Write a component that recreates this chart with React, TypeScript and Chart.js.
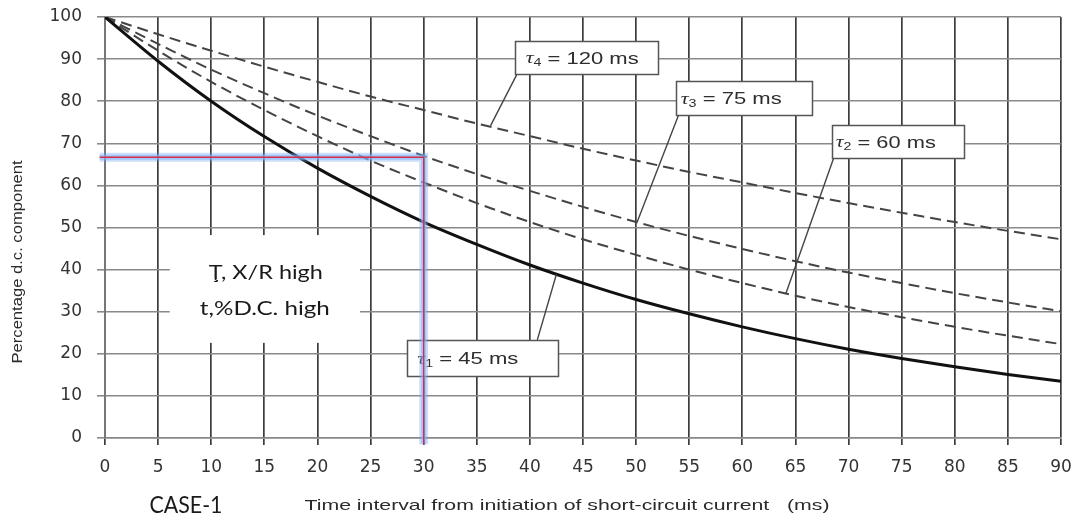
import React, { useEffect, useRef } from "react";
import { Chart, registerables } from "chart.js";

Chart.register(...registerables);

// ---- data ----
const timeMs = [0, 5, 10, 15, 20, 25, 30, 35, 40, 45, 50, 55, 60, 65, 70, 75, 80, 85, 90];
const tau45 = [100, 89.5, 80, 71.6, 64.1, 57.4, 51.3, 46, 41.1, 36.8, 32.9, 29.5, 26.4, 23.6, 21.1, 18.9, 16.9, 15.1, 13.5];
const tau60 = [100, 92, 84.6, 77.9, 71.7, 65.9, 60.7, 55.8, 51.3, 47.2, 43.5, 40, 36.8, 33.8, 31.1, 28.7, 26.4, 24.3, 22.3];
const tau75 = [100, 93.6, 87.5, 81.9, 76.6, 71.7, 67, 62.7, 58.7, 54.9, 51.3, 48, 44.9, 42, 39.3, 36.8, 34.4, 32.2, 30.1];
const tau120 = [100, 95.9, 92, 88.2, 84.6, 81.1, 77.9, 74.7, 71.7, 68.7, 65.9, 63.2, 60.7, 58.2, 55.8, 53.5, 51.3, 49.2, 47.2];
const seriesNames = ["τ1 = 45 ms", "τ2 = 60 ms", "τ3 = 75 ms", "τ4 = 120 ms"];

const highlightTime = 30;
const highlightPercent = 66.7;

const xTitle = "Time interval from initiation of short-circuit current   (ms)";
const yTitle = "Percentage d.c. component";
const noteLine1 = "Ţ, X/R high";
const noteLine2 = "t,%D.C. high";
const caseLabel = "CASE-1";

// label boxes (data coordinates): box [x0, yTop, x1, yBottom], text start x, text width px, leader from/to
type Ann = {
  sub: string;
  value: string;
  box: [number, number, number, number];
  textX: number;
  textW: number;
  from: [number, number];
  to: [number, number];
};
const annotations: Ann[] = [
  { sub: "4", value: "120 ms", box: [38.6, 94.3, 52.1, 86.5], textX: 39.6, textW: 113, from: [38.8, 86.5], to: [36.3, 74.2] },
  { sub: "3", value: "75 ms", box: [53.8, 84.8, 66.6, 76.7], textX: 54.2, textW: 101, from: [54.0, 76.7], to: [50.1, 51.3] },
  { sub: "2", value: "60 ms", box: [68.4, 74.3, 80.9, 66.5], textX: 68.8, textW: 100, from: [68.6, 66.5], to: [64.1, 34.3] },
  { sub: "1", value: "45 ms", box: [28.4, 23.3, 42.6, 14.7], textX: 29.4, textW: 101, from: [40.7, 23.3], to: [42.5, 38.9] },
];

function fitText(
  ctx: CanvasRenderingContext2D,
  text: string,
  cx: number,
  cy: number,
  font: string,
  width: number,
  color: string,
  rotate = 0
) {
  ctx.save();
  ctx.font = font;
  ctx.fillStyle = color;
  ctx.textBaseline = "middle";
  ctx.textAlign = "center";
  const w = ctx.measureText(text).width;
  ctx.translate(cx, cy);
  if (rotate) ctx.rotate(rotate);
  ctx.scale(width / w, 1);
  ctx.fillText(text, 0, 0);
  ctx.restore();
}

const overlayPlugin = {
  id: "overlay",
  beforeDatasetsDraw(chart: any) {
    const { ctx, scales } = chart;
    const x = scales.x;
    const y = scales.y;
    const l = x.getPixelForValue(6.1);
    const r = x.getPixelForValue(24);
    const t = y.getPixelForValue(48.2);
    const b = y.getPixelForValue(22.6);
    ctx.save();
    ctx.fillStyle = "#ffffff";
    ctx.fillRect(l, t, r - l, b - t);
    ctx.restore();
    const cx = (l + r) / 2;
    fitText(ctx, noteLine1, cx + 1, y.getPixelForValue(39.2), "20px Lato", 114, "#1a1a1a");
    fitText(ctx, noteLine2, cx, y.getPixelForValue(30.8), "20px Lato", 130, "#1a1a1a");
  },
  afterDatasetsDraw(chart: any) {
    const { ctx, scales } = chart;
    const x = scales.x;
    const y = scales.y;
    ctx.save();
    // leader lines
    ctx.strokeStyle = "#444";
    ctx.lineWidth = 1.4;
    for (const a of annotations) {
      ctx.beginPath();
      ctx.moveTo(x.getPixelForValue(a.from[0]), y.getPixelForValue(a.from[1]));
      ctx.lineTo(x.getPixelForValue(a.to[0]), y.getPixelForValue(a.to[1]));
      ctx.stroke();
    }
    // boxes + text
    for (const a of annotations) {
      const l = Math.round(x.getPixelForValue(a.box[0])) + 0.5;
      const r = Math.round(x.getPixelForValue(a.box[2])) + 0.5;
      const t = Math.round(y.getPixelForValue(a.box[1])) + 0.5;
      const b = Math.round(y.getPixelForValue(a.box[3])) + 0.5;
      ctx.fillStyle = "#fff";
      ctx.fillRect(l, t, r - l, b - t);
      ctx.strokeStyle = "#555";
      ctx.lineWidth = 1.5;
      ctx.strokeRect(l, t, r - l, b - t);

      const cy = (t + b) / 2 + 1;
      const mainFont = "17px 'Liberation Sans'";
      const tauFont = "italic 17px 'Liberation Serif'";
      const subFont = "11px 'Liberation Sans'";
      ctx.textBaseline = "middle";
      ctx.textAlign = "left";
      ctx.font = tauFont;
      const wTau = ctx.measureText("τ").width;
      ctx.font = subFont;
      const wSub = ctx.measureText(a.sub).width;
      ctx.font = mainFont;
      const rest = " = " + a.value;
      const wRest = ctx.measureText(rest).width;
      const total = wTau + wSub + wRest;
      const s = a.textW / total;
      ctx.save();
      ctx.translate(x.getPixelForValue(a.textX), cy);
      ctx.scale(s, 1);
      ctx.fillStyle = "#2e2e2e";
      ctx.font = tauFont;
      ctx.fillText("τ", 0, 0);
      ctx.font = subFont;
      ctx.fillText(a.sub, wTau, 4);
      ctx.font = mainFont;
      ctx.fillText(rest, wTau + wSub, 0);
      ctx.restore();
    }
    // highlighted reading lines
    const hx0 = x.getPixelForValue(-0.5);
    const hx1 = x.getPixelForValue(highlightTime);
    const hy = y.getPixelForValue(highlightPercent);
    const hy0 = y.getPixelForValue(-1.5);
    const path = () => {
      ctx.beginPath();
      ctx.moveTo(hx0, hy);
      ctx.lineTo(hx1, hy);
      ctx.lineTo(hx1, hy0);
    };
    ctx.lineJoin = "miter";
    ctx.lineCap = "butt";
    path();
    ctx.strokeStyle = "rgba(110,160,240,0.35)";
    ctx.lineWidth = 9;
    ctx.stroke();
    path();
    ctx.strokeStyle = "rgba(140,180,245,0.6)";
    ctx.lineWidth = 5;
    ctx.stroke();
    path();
    ctx.strokeStyle = "#d0304a";
    ctx.lineWidth = 1.4;
    ctx.stroke();
    ctx.restore();
  },
  afterDraw(chart: any) {
    const { ctx } = chart;
    fitText(ctx, yTitle, 18, 262, "15px 'Liberation Sans'", 203, "#2a2a2a", -Math.PI / 2);
    fitText(ctx, xTitle, 567, 506, "15px 'Liberation Sans'", 525, "#2a2a2a");
    fitText(ctx, caseLabel, 186, 505, "24px Lato", 73, "#1a1a1a");
  },
};

function toPoints(vals: number[]) {
  return timeMs.map((t, i) => ({ x: t, y: vals[i] }));
}

export default function App() {
  const ref = useRef<HTMLCanvasElement>(null);
  useEffect(() => {
    if (!ref.current) return;
    const dashed = { borderColor: "#444", borderWidth: 2, borderDash: [11, 6] };
    const chart = new Chart(ref.current, {
      type: "line",
      data: {
        datasets: [
          { label: seriesNames[0], data: toPoints(tau45), borderColor: "#111", borderWidth: 3 },
          { label: seriesNames[1], data: toPoints(tau60), ...dashed },
          { label: seriesNames[2], data: toPoints(tau75), ...dashed },
          { label: seriesNames[3], data: toPoints(tau120), ...dashed },
        ].map((d) => ({ ...d, pointRadius: 0, fill: false, cubicInterpolationMode: "monotone" as const })),
      },
      options: {
        animation: false,
        responsive: false,
        layout: { padding: { top: 17, right: 14, left: 0, bottom: 0 } },
        plugins: { legend: { display: false }, tooltip: { enabled: false } },
        scales: {
          x: {
            type: "linear",
            min: 0,
            max: 90,
            ticks: {
              stepSize: 5,
              padding: 12,
              color: "#333",
              font: { family: "'DejaVu Sans'", size: 17 },
              maxRotation: 0,
            },
            grid: { color: "#3c3c3c", lineWidth: 1.7, tickLength: 7 },
            border: { color: "#888", width: 1.6 },
            afterFit: (s: any) => {
              s.height = 84;
              s.paddingLeft = 0;
              s.paddingRight = 0;
            },
          },
          y: {
            min: 0,
            max: 100,
            ticks: {
              stepSize: 10,
              padding: 15,
              color: "#333",
              font: { family: "'DejaVu Sans'", size: 17 },
            },
            grid: { color: "#8a8a8a", lineWidth: 1.6, tickLength: 8 },
            border: { color: "#777", width: 1.6 },
            afterFit: (s: any) => {
              s.width = 105;
              s.paddingTop = 0;
              s.paddingBottom = 0;
            },
          },
        },
      },
      plugins: [overlayPlugin],
    });
    return () => chart.destroy();
  }, []);
  return (
    <div style={{ position: "absolute", left: 0, top: 0, width: 1075, height: 522, background: "#fff" }}>
      <canvas ref={ref} width={1075} height={522} />
    </div>
  );
}
